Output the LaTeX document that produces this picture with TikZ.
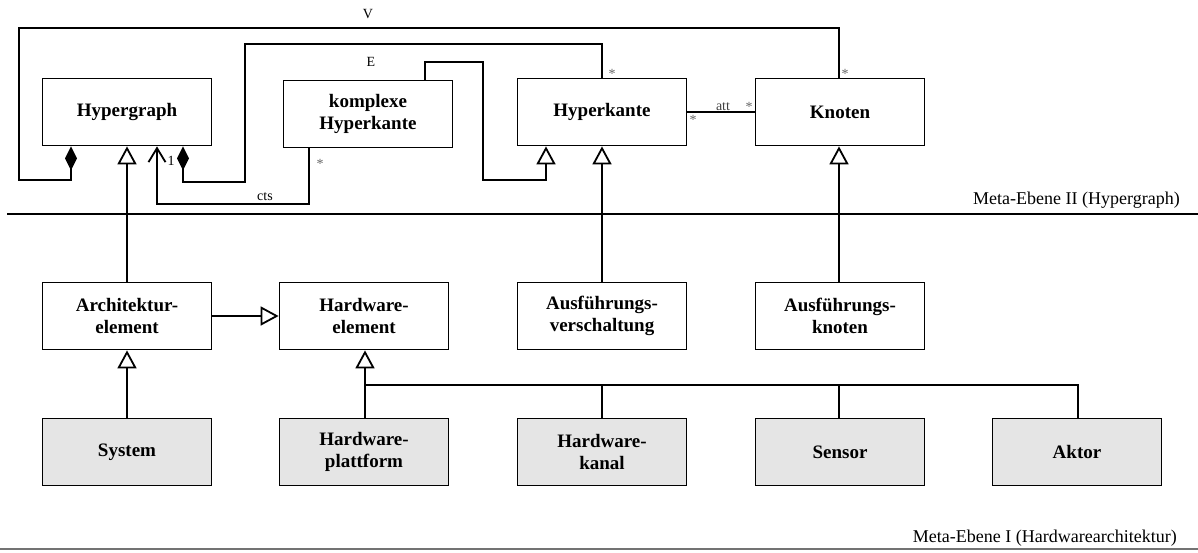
\documentclass[tikz,border=0pt]{standalone}
\usepackage{fontspec}
\setmainfont{Liberation Serif}
\usetikzlibrary{arrows.meta}
\begin{document}
\begin{tikzpicture}[x=1pt,y=-1pt,
  cls/.style={draw, line width=1.8pt, minimum width=169pt, minimum height=67pt,
    align=center, inner sep=0pt, font=\fontsize{19}{22}\selectfont\bfseries},
  leaf/.style={cls, fill=black!10},
  conn/.style={line width=1.8pt},
  inh/.style={conn, -{Triangle[open, length=18pt, width=19pt]}},
  comp/.style={conn, -{Diamond[length=24pt, width=12pt]}},
  nav/.style={conn, -{Straight Barb[length=14pt, width=17pt]}},
  lbl/.style={inner sep=0pt, font=\fontsize{14}{16}\selectfont},
  mult/.style={lbl, text=black!60},
  level/.style={inner sep=0pt, anchor=east, font=\fontsize{18}{20}\selectfont},
]
\useasboundingbox (0,0) rectangle (1198,552);

% Meta-Ebene II: hypergraph classes
\node[cls] (hg) at (127,112) {Hypergraph};
\node[cls] (khk) at (368,114) {komplexe\\Hyperkante};
\node[cls] (hk) at (602,112) {Hyperkante};
\node[cls] (kn) at (840,112) {Knoten};

% Meta-Ebene I: hardware architecture classes
\node[cls] (ae) at (127,316) {Architektur-\\element};
\node[cls] (hwe) at (364,316) {Hardware-\\element};
\node[cls] (av) at (602,316) {Ausführungs-\\verschaltung};
\node[cls] (ak) at (840,316) {Ausführungs-\\knoten};

\node[leaf] (sys) at (127,452) {System};
\node[leaf] (hwp) at (364,452) {Hardware-\\plattform};
\node[leaf] (hwk) at (602,452) {Hardware-\\kanal};
\node[leaf] (sen) at (840,452) {Sensor};
\node[leaf] (akt) at (1077,452) {Aktor};

% level separators
\draw[conn] (7,214) coordinate (sepA) -- (1198,214) coordinate (sepB);
\node[level] (lvl2) at (1180,200) {Meta-Ebene II (Hypergraph)};
\draw[line width=1.5pt, black!55] (0,549) coordinate (sepC) -- (1198,549) coordinate (sepD);
\node[level] (lvl1) at (1177,538) {Meta-Ebene I (Hardwarearchitektur)};

% composition V: Hypergraph -- Knoten
\draw[comp] (kn.north -| 839,0) -- (839,28) -- (19,28) -- (19,180) -- (71,180)
  -- (hg.south -| 71,0);
\node[lbl] (lblV) at (368,14) {V};
\node[mult] (mV) at (845,74) {*};

% composition E: Hypergraph -- Hyperkante
\draw[comp] (hk.north) -- (602,44) -- (245,44) -- (245,182) -- (183,182)
  -- (hg.south -| 183,0);
\node[lbl] (lblE) at (371,62) {E};
\node[mult] (mE) at (612,74) {*};

% komplexe Hyperkante specialises Hyperkante
\draw[inh] (khk.north -| 425,0) -- (425,62) -- (483,62) -- (483,180) -- (546,180)
  -- (hk.south -| 546,0);

% cts association
\draw[nav] (khk.south -| 309,0) -- (309,204) -- (157,204) -- (hg.south -| 157,0);
\node[lbl] (lblcts) at (265,197) {cts};
\node[lbl] (m1) at (171,161) {1};
\node[mult] (mcts) at (320,164) {*};

% att association
\draw[conn] (hk.east) -- (kn.west);
\node[lbl, text=black!75] (lblatt) at (723,107) {att};
\node[mult] (matt1) at (749,107) {*};
\node[mult] (matt2) at (693,120) {*};

% generalisations across the levels
\draw[inh] (ae.north) -- (hg.south);
\draw[inh] (av.north) -- (hk.south);
\draw[inh] (ak.north -| 839,0) -- (kn.south -| 839,0);
\draw[inh] (ae.east) -- (hwe.west);
\draw[inh] (sys.north) -- (ae.south);

% hardware element hierarchy
\coordinate (bus) at (365,385);
\draw[inh] (hwp.north -| bus) -- (hwe.south -| bus);
\draw[conn] (bus) -- (1078,385) -- (akt.north -| 1078,0);
\draw[conn] (hwk.north) -- (hwk.north |- bus);
\draw[conn] (sen.north -| 839,0) -- (839,385);
\end{tikzpicture}
\end{document}
